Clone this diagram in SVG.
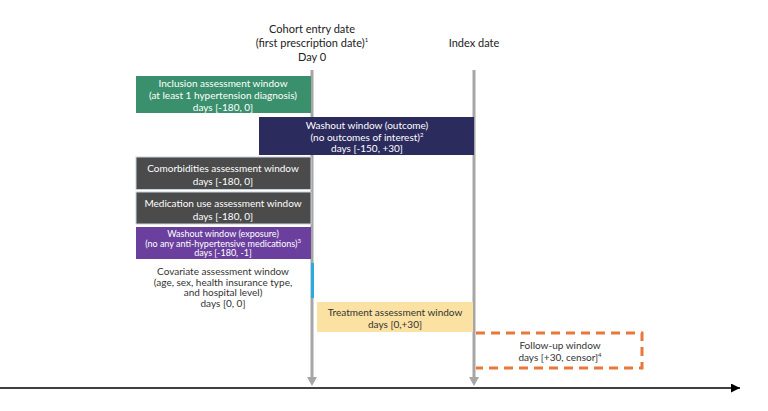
<svg xmlns="http://www.w3.org/2000/svg" width="768" height="411" viewBox="0 0 768 411">
<style>
text{font-family:Lato,"Liberation Sans",sans-serif;font-size:10px;text-anchor:middle;fill:#333}
.w{fill:#fff}
.h{font-size:11px;fill:#222}
.s{font-size:9px}
.sup{font-size:6px}
.gl{stroke:#a6a6a6;stroke-width:3}
.gh{fill:#a6a6a6}
</style>
<defs>
<marker id="ka" viewBox="0 0 10 10" refX="10" refY="5" markerWidth="6" markerHeight="6" orient="auto" markerUnits="strokeWidth">
<path d="M0,0 L10,5 L0,10 Z" fill="#000"/>
</marker>
</defs>
<rect width="768" height="411" fill="#fff"/>
<g id="connectors">
<line x1="0" y1="388" x2="740" y2="388" stroke="#000" stroke-width="1.5" marker-end="url(#ka)"/>
<line class="gl" x1="312" y1="70" x2="312" y2="378"/>
<path class="gh" d="M307,377 L317,377 L312,386 Z"/>
<line class="gl" x1="474" y1="70" x2="474" y2="378"/>
<path class="gh" d="M469,377 L479,377 L474,386 Z"/>
<line x1="312.5" y1="263" x2="312.5" y2="298" stroke="#29abe2" stroke-width="3"/>
</g>
<g id="cohort-entry">
<text class="h" x="312" y="33">Cohort entry date</text>
<text class="h" x="312" y="47">(first prescription date)<tspan class="sup" dy="-5">1</tspan></text>
<text class="h" x="312" y="61">Day 0</text>
</g>
<g id="index-date">
<text class="h" x="474" y="47">Index date</text>
</g>
<g id="inclusion">
<rect x="136" y="76" width="175" height="37" fill="#3a8f6d"/>
<text class="w" x="223" y="86.5">Inclusion assessment window</text>
<text class="w" x="223" y="99">(at least 1 hypertension diagnosis)</text>
<text class="w" x="223" y="111">days [-180, 0]</text>
</g>
<g id="washout-outcome">
<rect x="259" y="117" width="215" height="38" fill="#2c2b5e"/>
<text class="w" x="367" y="128.5">Washout window (outcome)</text>
<text class="w" x="367" y="140.5">(no outcomes of interest)<tspan class="sup" dy="-4">2</tspan></text>
<text class="w" x="367" y="152">days [-150, +30]</text>
</g>
<g id="comorbidities">
<rect x="136" y="157" width="175" height="32.5" fill="#4b4b4b" stroke="#c9d3dc" stroke-width="1"/>
<text class="w" x="223" y="171.5">Comorbidities assessment window</text>
<text class="w" x="223" y="184.5">days [-180, 0]</text>
</g>
<g id="medication">
<rect x="136" y="192" width="175" height="32" fill="#4b4b4b" stroke="#c9d3dc" stroke-width="1"/>
<text class="w" x="223" y="206.5">Medication use assessment window</text>
<text class="w" x="223" y="219.5">days [-180, 0]</text>
</g>
<g id="washout-exposure">
<rect x="136" y="227" width="175" height="32" fill="#6a3f9e"/>
<text class="w s" x="223" y="237">Washout window (exposure)</text>
<text class="w s" x="223" y="246.5">(no any anti-hypertensive medications)<tspan class="sup" dy="-4">3</tspan></text>
<text class="w s" x="223" y="256">days [-180, -1]</text>
</g>
<g id="covariate">
<text x="223" y="274.5">Covariate assessment window</text>
<text x="223" y="285.5">(age, sex, health insurance type,</text>
<text x="223" y="296">and hospital level)</text>
<text x="223" y="306.5">days [0, 0]</text>
</g>
<g id="treatment">
<rect x="317" y="302" width="156" height="30" fill="#fbe1a2"/>
<text x="395" y="315.5">Treatment assessment window</text>
<text x="395" y="327.5">days [0,+30]</text>
</g>
<g id="follow-up">
<path d="M476,333 H642 V368 H476" fill="none" stroke="#e8783a" stroke-width="3" stroke-dasharray="9,6"/>
<text x="560" y="348.5">Follow-up window</text>
<text x="560" y="360.5">days [+30, censor]<tspan class="sup" dy="-4">4</tspan></text>
</g>
</svg>
